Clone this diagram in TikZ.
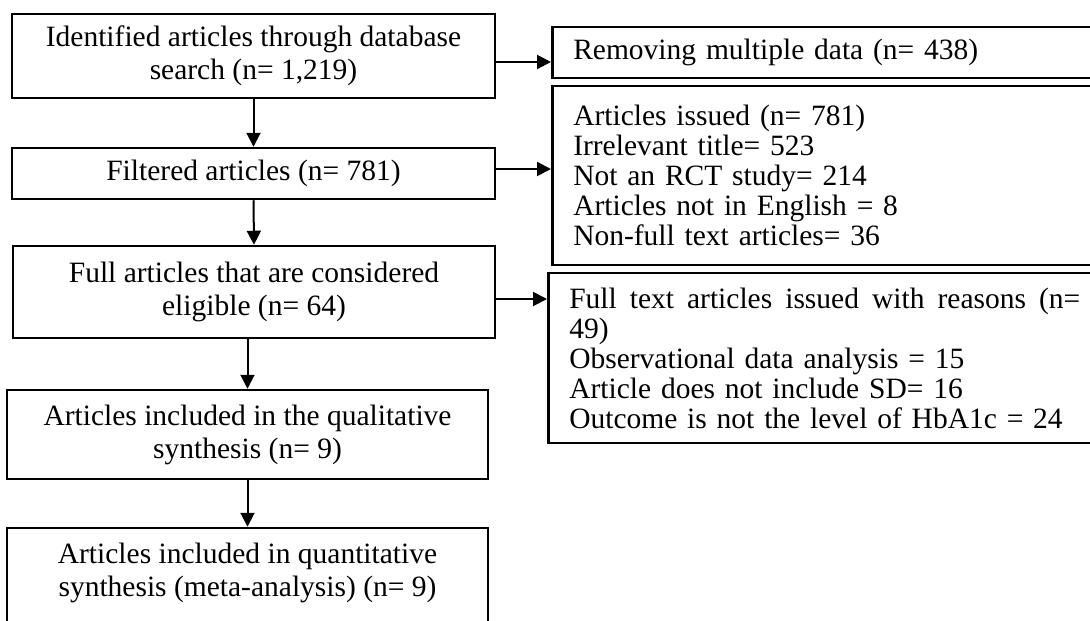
\documentclass[tikz,border=0pt]{standalone}
\usepackage{fontspec}
\setmainfont{Liberation Serif}
\usetikzlibrary{arrows.meta}
\begin{document}
\begin{tikzpicture}[x=1pt,y=-1pt,
  box/.style={draw, line width=2.5pt, inner sep=0pt, align=center,
    font=\fontsize{29.5}{33}\selectfont},
  boxtext/.style={inner sep=0pt, align=center, font=\fontsize{29.5}{33}\selectfont},
  sidebox/.style={draw, line width=2.5pt, inner xsep=21pt, inner ysep=0pt,
    anchor=west, align=left, font=\fontsize{29.5}{30}\selectfont},
  arr/.style={line width=2pt, -{Triangle[length=14pt,width=14pt]}}]
\useasboundingbox (0,0) rectangle (1090,621);
\clip (0,0) rectangle (1090,621);

% main column
\node[box, minimum width=483pt, minimum height=84pt] (a) at (253.5,56)
  {Identified articles through database\\search (n= 1,219)};
\node[box, minimum width=483pt, minimum height=51pt] (b) at (253.5,173.5)
  {Filtered articles (n= 781)};
\node[box, minimum width=482pt, minimum height=92pt] (c) at (254,292)
  {Full articles that are considered\\eligible (n= 64)};
\node[box, minimum width=481pt, minimum height=89pt] (d) at (247.5,434.5)
  {Articles included in the qualitative\\synthesis (n= 9)};
\node[box, minimum width=481pt, minimum height=110pt] (e) at (247.5,583) {};
\node[boxtext] (etext) at (247.5,572.5)
  {Articles included in quantitative\\synthesis (meta-analysis) (n= 9)};

% side boxes
\node[sidebox, text width=507pt, minimum height=51pt] (r1) at (551,52.5)
  {Removing multiple data (n= 438)};
\node[sidebox, text width=507pt, minimum height=179pt] (r2) at (551,175.5)
  {Articles issued (n= 781)\\Irrelevant title= 523\\Not an RCT study= 214\\Articles not in English = 8\\Non-full text articles= 36};
\node[sidebox, text width=511pt, minimum height=170pt] (r3) at (547,358)
  {\hbox to 511pt{Full\hfill text\hfill articles\hfill issued\hfill with\hfill reasons\hfill (n=}\\49)\\Observational data analysis = 15\\Article does not include SD= 16\\Outcome is not the level of HbA1c = 24};

% vertical connectors
\draw[arr] (a.south) -- (b.north);
\draw[arr] (b.south) -- (c.north);
\draw[arr] (c.south -| d.north) -- (d.north);
\draw[arr] (d.south) -- (e.north);

% horizontal connectors
\draw[arr] ([yshift=-6pt]a.east) -- ([yshift=-6pt]a.east -| r1.west);
\draw[arr] ([yshift=4.5pt]b.east) -- ([yshift=4.5pt]b.east -| r2.west);
\draw[arr] ([yshift=-7pt]c.east) -- ([yshift=-7pt]c.east -| r3.west);
\end{tikzpicture}
\end{document}
